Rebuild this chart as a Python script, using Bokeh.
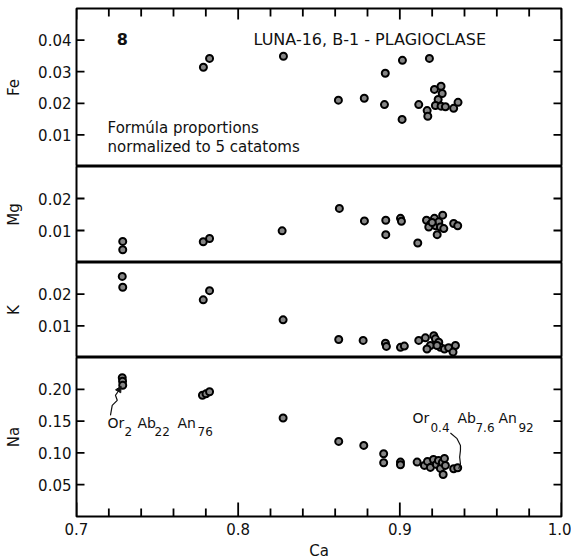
from bokeh.plotting import figure
from bokeh.layouts import column
from bokeh.models import (FixedTicker, LinearAxis, PrintfTickFormatter,
                          Range1d, Arrow, NormalHead, ColumnDataSource)
from bokeh.embed import file_html
from bokeh.resources import INLINE
from bokeh.core.properties import value

FONT = "DejaVu Sans"
INK = "#111111"

# ---------------- data ----------------
ca_fe = [0.7785, 0.7823, 0.8280, 0.8620, 0.8780, 0.8910, 0.8905, 0.9016, 0.9014, 0.9117,
         0.9169, 0.9173, 0.9183, 0.9214, 0.9255, 0.9262, 0.9237, 0.9220, 0.9255, 0.9282,
         0.9333, 0.9360]
fe = [0.0314, 0.0342, 0.0349, 0.0210, 0.0216, 0.0295, 0.0196, 0.0336, 0.0149, 0.0196,
      0.0177, 0.0159, 0.0342, 0.0244, 0.0254, 0.0231, 0.0212, 0.0193, 0.0191, 0.0189,
      0.0184, 0.0203]

ca_mg = [0.7286, 0.7286, 0.7784, 0.7823, 0.8272, 0.8626, 0.8781, 0.8913, 0.8913, 0.9004,
         0.9010, 0.9111, 0.9165, 0.9189, 0.9214, 0.9222, 0.9179, 0.9241, 0.9251, 0.9265,
         0.9272, 0.9231, 0.9200, 0.9333, 0.9358]
mg = [0.0066, 0.0040, 0.0065, 0.0075, 0.0099, 0.0169, 0.0130, 0.0132, 0.0087, 0.0138,
      0.0129, 0.0061, 0.0132, 0.0119, 0.0138, 0.0115, 0.0111, 0.0127, 0.0111, 0.0148,
      0.0106, 0.0087, 0.0125, 0.0122, 0.0115]

ca_k = [0.7283, 0.7286, 0.7784, 0.7823, 0.8278, 0.8622, 0.8773, 0.8911, 0.8917, 0.9004,
        0.9028, 0.9117, 0.9158, 0.9210, 0.9220, 0.9241, 0.9189, 0.9168, 0.9251, 0.9276,
        0.9230, 0.9302, 0.9344, 0.9329]
k = [0.0256, 0.0222, 0.0182, 0.0211, 0.0119, 0.0057, 0.0054, 0.0045, 0.0035, 0.0032,
     0.0036, 0.0054, 0.0062, 0.0069, 0.0059, 0.0048, 0.0038, 0.0027, 0.0032, 0.0027,
     0.0038, 0.0031, 0.0038, 0.0017]

ca_na = [0.7283, 0.7285, 0.7286, 0.7779, 0.7801, 0.7823, 0.8278, 0.8622, 0.8777, 0.8900,
         0.8900, 0.9004, 0.9004, 0.9107, 0.9152, 0.9171, 0.9189, 0.9208, 0.9226, 0.9239,
         0.9251, 0.9263, 0.9276, 0.9282, 0.9268, 0.9333, 0.9358]
na = [0.2181, 0.2126, 0.2063, 0.1906, 0.1929, 0.1961, 0.1548, 0.1181, 0.1118, 0.0987,
      0.0846, 0.0855, 0.0814, 0.0855, 0.0803, 0.0866, 0.0772, 0.0898, 0.0819, 0.0882,
      0.0756, 0.0850, 0.0913, 0.0803, 0.0661, 0.0751, 0.0767]

x_major = [0.7, 0.8, 0.9, 1.0]
x_minor = [0.72, 0.74, 0.76, 0.78, 0.82, 0.84, 0.86, 0.88, 0.92, 0.94, 0.96, 0.98]

fe_ticks = [0.01, 0.02, 0.03, 0.04]
mg_ticks = [0.01, 0.02]
k_ticks = [0.01, 0.02]
na_ticks = [0.05, 0.10, 0.15, 0.20]

# annotation texts and anchors (data units)
panel_number = "8"
title_text = "LUNA-16, B-1 - PLAGIOCLASE"
note_lines = ["Formúla proportions", "normalized to 5 catatoms"]
comp1_main = ["Or", "Ab", "An"]
comp1_sub = ["2", "22", "76"]
comp2_main = ["Or", "Ab", "An"]
comp2_sub = ["0.4", "7.6", "92"]
comp1_anchor = (0.7192, 0.1465)
comp2_anchor = (0.9078, 0.1543)
leader1_x = [0.7210, 0.7221, 0.7252, 0.7241, 0.7255]
leader1_y = [0.1591, 0.1748, 0.1827, 0.1906, 0.1957]
leader1_tip = (0.7276, 0.2050)
leader2_x = [0.9313, 0.9354, 0.9375, 0.9375, 0.9370, 0.9375, 0.9364]
leader2_y = [0.1312, 0.1224, 0.1118, 0.1039, 0.0934, 0.0830, 0.0751]

X0, X1 = 0.7, 1.0
FRAME_W = 485


def add_ticks(p, fh, yr, yticks, top_ticks, bottom_ticks):
    """Inward tick marks drawn as head-less Arrow annotations (pixel lengths -> data units)."""
    dx = (X1 - X0) / FRAME_W
    dy = (yr[1] - yr[0]) / fh
    xa, ya, xb, yb = [], [], [], []
    for t in yticks:
        xa += [X0, X1]; xb += [X0 + 8 * dx, X1 - 8 * dx]
        ya += [t, t]; yb += [t, t]
    if top_ticks:
        for t, ln in [(v, 11) for v in x_major] + [(v, 8) for v in x_minor]:
            xa.append(t); xb.append(t); ya.append(yr[1]); yb.append(yr[1] - ln * dy)
    if bottom_ticks:
        for t, ln in [(v, 14) for v in x_major] + [(v, 8) for v in x_minor]:
            xa.append(t); xb.append(t); ya.append(yr[0]); yb.append(yr[0] + ln * dy)
    src = ColumnDataSource(data=dict(xa=xa, ya=ya, xb=xb, yb=yb))
    p.add_layout(Arrow(start=None, end=None, x_start="xa", y_start="ya",
                       x_end="xb", y_end="yb", source=src,
                       line_color="#000000", line_width=1.8))


def make_panel(name, xs, ys, yr, yticks, fh, top=0, bottom=0, top_ticks=False, bottom_axis=False):
    p = figure(frame_width=FRAME_W, frame_height=fh,
               x_range=Range1d(X0, X1), y_range=Range1d(*yr),
               output_backend="svg", toolbar_location=None,
               x_axis_location=None, y_axis_location=None,
               min_border_left=76, min_border_right=10,
               min_border_top=top, min_border_bottom=bottom)
    p.grid.visible = False
    p.outline_line_color = "black"
    p.outline_line_width = 2
    p.background_fill_color = "white"
    p.border_fill_color = "white"

    ly = LinearAxis(ticker=FixedTicker(ticks=yticks, minor_ticks=[]),
                    formatter=PrintfTickFormatter(format="%.2f"),
                    axis_label=name)
    ly.major_tick_in = 0
    ly.major_tick_out = 0
    ly.minor_tick_in = 0
    ly.minor_tick_out = 0
    ly.axis_line_color = None
    ly.major_label_standoff = 5
    ly.major_label_text_font = FONT
    ly.major_label_text_font_size = "15px"
    ly.major_label_text_color = INK
    ly.axis_label_standoff = 12
    ly.axis_label_text_font = FONT
    ly.axis_label_text_font_size = "15px"
    ly.axis_label_text_font_style = "normal"
    ly.axis_label_text_color = INK
    p.add_layout(ly, "left")

    if bottom_axis:
        bx = LinearAxis(ticker=FixedTicker(ticks=x_major, minor_ticks=[]),
                        formatter=PrintfTickFormatter(format="%.1f"),
                        axis_label="Ca")
        bx.major_tick_in = 0
        bx.major_tick_out = 0
        bx.minor_tick_in = 0
        bx.minor_tick_out = 0
        bx.axis_line_color = None
        bx.major_label_standoff = 6
        bx.major_label_text_font = FONT
        bx.major_label_text_font_size = "15px"
        bx.major_label_text_color = INK
        bx.axis_label_standoff = 4
        bx.axis_label_text_font = FONT
        bx.axis_label_text_font_size = "15px"
        bx.axis_label_text_font_style = "normal"
        bx.axis_label_text_color = INK
        p.add_layout(bx, "below")

    p.scatter(xs, ys, marker="circle", size=7, fill_color="#858585",
              line_color="#000000", line_width=2)
    add_ticks(p, fh, yr, yticks, top_ticks, bottom_axis)
    return p


p_fe = make_panel("Fe", ca_fe, fe, (0, 0.05), fe_ticks, 158, top=8, top_ticks=True)
p_mg = make_panel("Mg", ca_mg, mg, (0, 0.03), mg_ticks, 96)
p_k = make_panel("K", ca_k, k, (0, 0.03), k_ticks, 95)
p_na = make_panel("Na", ca_na, na, (0, 0.25), na_ticks, 159, bottom=42, bottom_axis=True)

# ---- text annotations in the Fe panel ----
p_fe.text(x=[0.7284], y=[0.0402], text=[panel_number], text_font=value(FONT),
          text_font_size="16px", text_font_style="bold", text_align="center",
          text_baseline="middle", text_color=INK)
p_fe.text(x=[0.8095], y=[0.0402], text=[title_text], text_font=value(FONT),
          text_font_size="16px", text_align="left", text_baseline="middle", text_color=INK)
p_fe.text(x=[0.7192, 0.7192], y=[0.01215, 0.00615], text=note_lines, text_font=value(FONT),
          text_font_size="15px", text_align="left", text_baseline="middle", text_color=INK)

# ---- composition labels in the Na panel ----
def comp_label(p, anchor, mains, subs, main_off, sub_off, sub_dy):
    p.text(x=[anchor[0]] * len(mains), y=[anchor[1]] * len(mains), text=mains,
           x_offset=main_off, text_font=value(FONT), text_font_size="14px",
           text_align="left", text_baseline="middle", text_color=INK)
    p.text(x=[anchor[0]] * len(subs), y=[anchor[1]] * len(subs), text=subs,
           x_offset=sub_off, y_offset=sub_dy, text_font=value(FONT), text_font_size="12px",
           text_align="left", text_baseline="middle", text_color=INK)

comp_label(p_na, comp1_anchor, comp1_main, comp1_sub, [0, 30, 70], [17, 47, 90], 8)
comp_label(p_na, comp2_anchor, comp2_main, comp2_sub, [0, 45, 86], [18, 63, 106], 9)

p_na.line(leader1_x, leader1_y, line_color=INK, line_width=1.2)
p_na.add_layout(Arrow(end=NormalHead(size=6, fill_color=INK, line_color=INK),
                      x_start=leader1_x[-1], y_start=leader1_y[-1],
                      x_end=leader1_tip[0], y_end=leader1_tip[1],
                      line_color=INK, line_width=1.2))
p_na.line(leader2_x, leader2_y, line_color=INK, line_width=1.2)

layout = column(p_fe, p_mg, p_k, p_na, spacing=0)
open("out.html", "w").write(file_html(layout, INLINE))
